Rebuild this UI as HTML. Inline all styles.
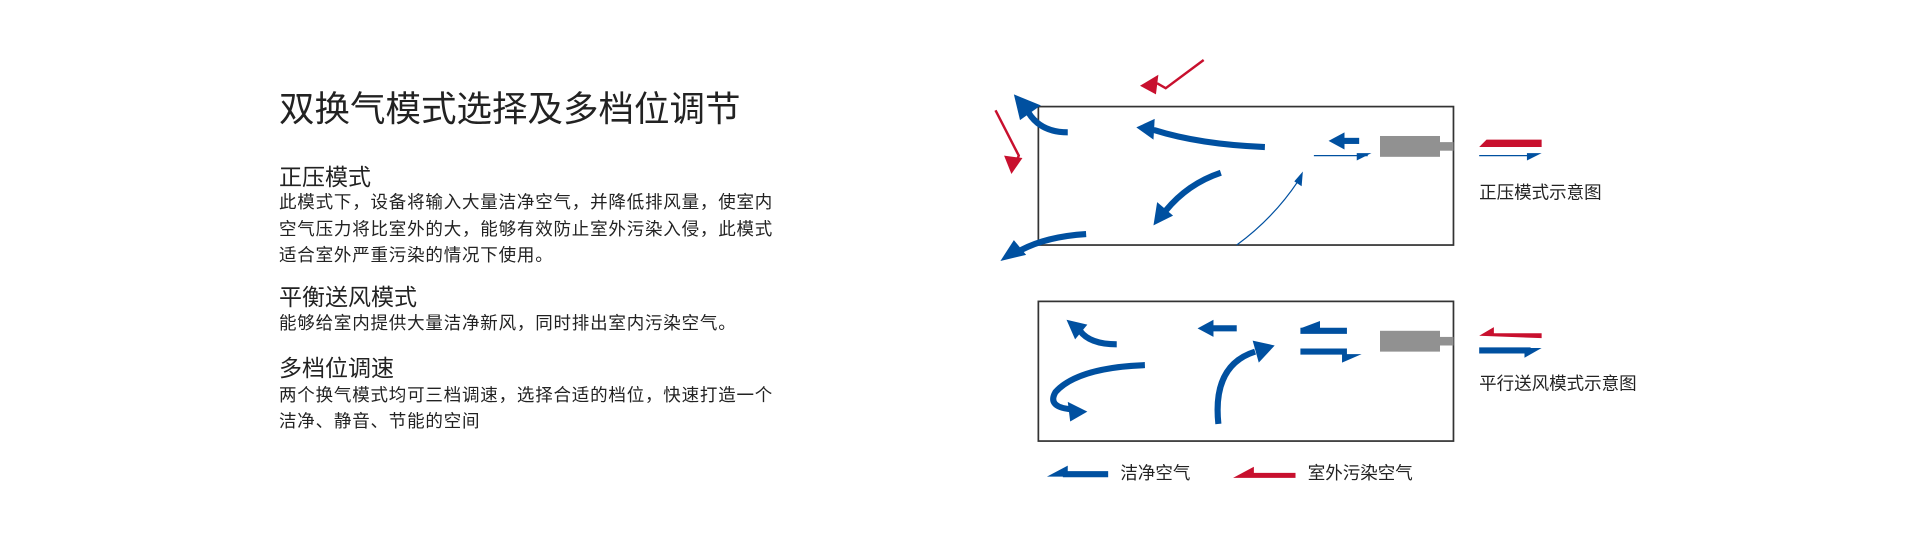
<!DOCTYPE html>
<html><head><meta charset="utf-8"><style>
body{margin:0;width:1920px;height:555px;background:#fff;position:relative;overflow:hidden;font-family:"Liberation Sans","Noto Sans CJK SC",sans-serif;color:#222}
.t{position:absolute;left:279px;white-space:nowrap;line-height:1}
.b{font-size:17.5px;line-height:26.5px;letter-spacing:0.8px}
svg{position:absolute;left:0;top:0}
</style></head><body>
<div class="t" style="top:92px;font-size:35.5px">双换气模式选择及多档位调节</div>
<div class="t" style="top:166px;font-size:23px">正压模式</div>
<div class="t b" style="top:189px">此模式下，设备将输入大量洁净空气，并降低排风量，使室内<br>空气压力将比室外的大，能够有效防止室外污染入侵，此模式<br>适合室外严重污染的情况下使用。</div>
<div class="t" style="top:286px;font-size:23px">平衡送风模式</div>
<div class="t b" style="top:310px">能够给室内提供大量洁净新风，同时排出室内污染空气。</div>
<div class="t" style="top:357px;font-size:23px">多档位调速</div>
<div class="t b" style="top:383px;line-height:25.5px">两个换气模式均可三档调速，选择合适的档位，快速打造一个<br>洁净、静音、节能的空间</div>

<svg width="1920" height="555" viewBox="0 0 1568 453" preserveAspectRatio="none">
<g fill="none" stroke="#333" stroke-width="1.4">
<rect x="848" y="87" width="339" height="113"/>
<rect x="848" y="246" width="339" height="114"/>
</g>
<g fill="#919191">
<rect x="1127" y="111" width="49" height="17"/><rect x="1176" y="116" width="11" height="7"/>
<rect x="1127" y="270" width="49" height="17"/><rect x="1176" y="275" width="11" height="7"/>
</g>
<g stroke="#0050a0" fill="none" stroke-linecap="butt">
<path d="M872 108 Q850 108 840 92" stroke-width="5"/>
<path d="M1033 120 Q980 118 942 106" stroke-width="5"/>
<path d="M997 141 Q970 150 952 172" stroke-width="5"/>
<path d="M1010 200 Q1040 178 1060 148" stroke-width="1"/>
<path d="M887 191 Q855 193 834 204" stroke-width="5"/>
<path d="M1098 115 H1110" stroke-width="5"/>
<path d="M1073 127 H1117" stroke-width="1"/>
<path d="M1208 127 H1250" stroke-width="1"/>
<path d="M912 281 Q890 281 882 270" stroke-width="5"/>
<path d="M1010 268 H990" stroke-width="5"/>
<path d="M935 298 Q880 300 862 320 Q855 332 874 334" stroke-width="5"/>
<path d="M995 346 Q990 298 1025 287" stroke-width="5"/>
<path d="M1062 270 H1100" stroke-width="5"/>
<path d="M1062 287 H1100" stroke-width="5"/>
<path d="M1208 286 H1250" stroke-width="5"/>
<path d="M868 387 H905" stroke-width="5"/>
</g>
<g fill="#0050a0">
<polygon points="828,77 850,86 833,98"/>
<polygon points="928,104 943,97 942,114"/>
<polygon points="942,184 945,165 958,176"/>
<polygon points="1064,140 1063,152 1057,148"/>
<polygon points="817,213 828,196 838,208"/>
<polygon points="1085,115 1098,108 1098,122"/>
<polygon points="1108,125 1120,125 1108,131"/>
<polygon points="1247,125 1259,125 1247,131"/>
<polygon points="871,261 888,265 878,277"/>
<polygon points="978,268 991,261 991,275"/>
<polygon points="888,336 872,328 874,344"/>
<polygon points="1041,282 1023,278 1028,296"/>
<polygon points="1062,268 1078,262 1078,268"/>
<polygon points="1112,289 1096,289 1096,296"/>
<polygon points="1259,284 1245,284 1245,292"/>
<polygon points="855,389 872,380 872,389"/>
</g>
<g stroke="#c8102e" fill="none" stroke-width="2">
<path d="M983 49 L952 72 L945 68"/>
<path d="M813 90 L832 127 L830 132"/>
</g>
<g fill="#c8102e">
<polygon points="931,70 946,61 944,77"/>
<polygon points="826,142 820,127 835,129"/>
<polygon points="1208,120 1214,114 1259,114 1259,120"/>
<polygon points="1208,274 1220,267 1220,272 1259,272 1259,276"/>
<polygon points="1007,390 1024,381 1024,386 1058,386 1058,390"/>
</g>
<g font-family="Liberation Sans, Noto Sans CJK SC, sans-serif" font-size="14.3" fill="#222">
<text x="1208" y="162">正压模式示意图</text>
<text x="1208" y="318">平行送风模式示意图</text>
<text x="915" y="391">洁净空气</text>
<text x="1068" y="391">室外污染空气</text>
</g>
</svg>
</body></html>
